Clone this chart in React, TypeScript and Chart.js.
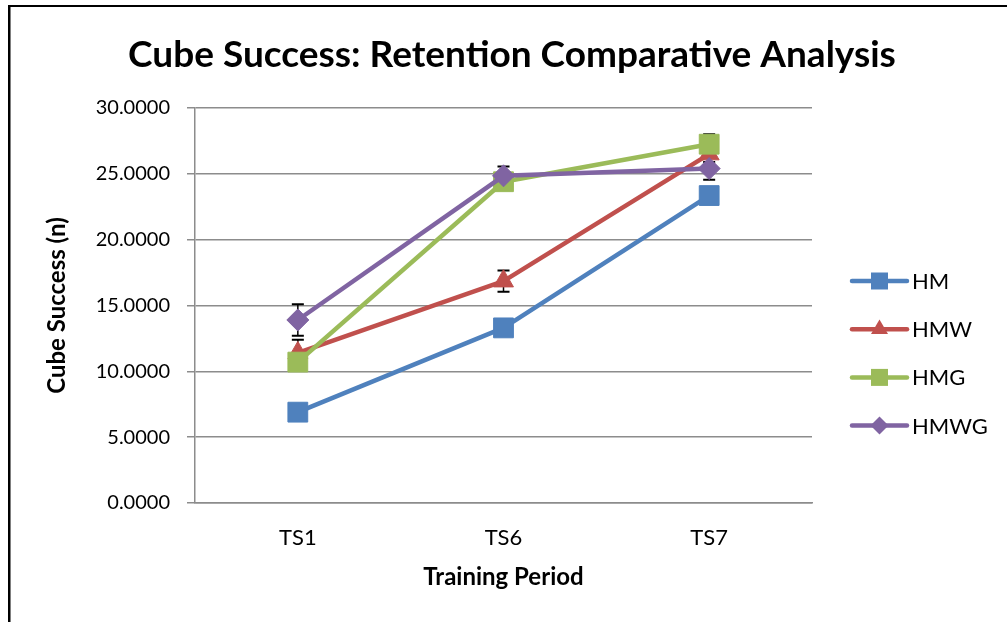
import { useEffect, useRef } from 'react';
import { Chart, registerables } from 'chart.js';

Chart.register(...registerables);

const categories = ['TS1', 'TS6', 'TS7'];
const seriesNames = ['HM', 'HMW', 'HMG', 'HMWG'];

const hmValues = [6.9, 13.3, 23.35];
const hmwValues = [11.4, 16.85, 26.5];
const hmgValues = [10.7, 24.4, 27.25];
const hmwgValues = [13.9, 24.85, 25.4];

const hmErrors = [0.4, 0.4, 0.4];
const hmwErrors = [1.0, 0.8, 0.6];
const hmgErrors = [0.6, 0.6, 0.75];
const hmwgErrors = [1.2, 0.7, 0.85];

const yMin = 0;
const yMax = 30;
const yStep = 5;

const chartTitle = 'Cube Success: Retention Comparative Analysis';
const xTitle = 'Training Period';
const yTitle = 'Cube Success (n)';

const colors = ['#4F81BD', '#C0504D', '#9BBB59', '#8064A2'];
const markerStyles = ['rect', 'triangle', 'rect', 'rectRot'];
const markerRadii = [14, 11.5, 14, 11];

const FONT = 'Lato, "Open Sans", sans-serif';

function drawMarker(ctx: CanvasRenderingContext2D, style: string, x: number, y: number, half: number, color: string) {
  ctx.save();
  ctx.fillStyle = color;
  ctx.beginPath();
  if (style === 'rect') {
    ctx.rect(x - half, y - half, half * 2, half * 2);
  } else if (style === 'triangle') {
    const r = half * 2 / Math.sqrt(3);
    ctx.moveTo(x, y - r);
    ctx.lineTo(x + half, y + r / 2);
    ctx.lineTo(x - half, y + r / 2);
    ctx.closePath();
  } else {
    ctx.moveTo(x, y - half);
    ctx.lineTo(x + half, y);
    ctx.lineTo(x, y + half);
    ctx.lineTo(x - half, y);
    ctx.closePath();
  }
  ctx.fill();
  ctx.restore();
}

export default function App() {
  const ref = useRef<HTMLCanvasElement | null>(null);

  useEffect(() => {
    const canvas = ref.current;
    if (!canvas) return;
    const values = [hmValues, hmwValues, hmgValues, hmwgValues];
    const errors = [hmErrors, hmwErrors, hmgErrors, hmwgErrors];

    const framePlugin = {
      id: 'frame',
      beforeDraw(chart: any) {
        const ctx = chart.ctx;
        ctx.save();
        ctx.fillStyle = '#fff';
        ctx.fillRect(0, 0, chart.width, chart.height);
        ctx.fillStyle = '#000';
        ctx.fillRect(8, 5, 2.5, chart.height);
        ctx.fillRect(8, 5, chart.width, 2);
        ctx.restore();
      },
      afterDraw(chart: any) {
        const ctx = chart.ctx;
        ctx.save();
        ctx.fillStyle = '#000';
        ctx.font = `bold 37px ${FONT}`;
        ctx.textAlign = 'center';
        ctx.textBaseline = 'middle';
        ctx.fillText(chartTitle, 512, 55);
        ctx.restore();
      },
    };

    const errorPlugin = {
      id: 'errorBars',
      beforeDatasetsDraw(chart: any) {
        const ctx = chart.ctx;
        const yScale = chart.scales.y;
        ctx.save();
        ctx.strokeStyle = '#000';
        errors.forEach((errs, i) => {
          const meta = chart.getDatasetMeta(i);
          meta.data.forEach((pt: any, j: number) => {
            const v = values[i][j];
            const e = errs[j];
            const yt = yScale.getPixelForValue(v + e);
            const yb = yScale.getPixelForValue(v - e);
            ctx.lineWidth = 1.5;
            ctx.beginPath();
            ctx.moveTo(pt.x, yt);
            ctx.lineTo(pt.x, yb);
            ctx.stroke();
            ctx.lineWidth = 2;
            ctx.beginPath();
            ctx.moveTo(pt.x - 6, yt);
            ctx.lineTo(pt.x + 6, yt);
            ctx.moveTo(pt.x - 6, yb);
            ctx.lineTo(pt.x + 6, yb);
            ctx.stroke();
          });
        });
        ctx.restore();
      },
    };

    const legendPlugin = {
      id: 'customLegend',
      afterDraw(chart: any) {
        const ctx = chart.ctx;
        const area = chart.chartArea;
        const x0 = area.right + 40;
        const lineLen = 55;
        const top = 281;
        const gap = 48.2;
        ctx.save();
        seriesNames.forEach((name, i) => {
          const y = top + i * gap;
          ctx.strokeStyle = colors[i];
          ctx.lineWidth = 4.5;
          ctx.lineCap = 'round';
          ctx.beginPath();
          ctx.moveTo(x0, y);
          ctx.lineTo(x0 + lineLen, y);
          ctx.stroke();
          const half = markerStyles[i] === 'rectRot' ? 9 : 8.5;
          drawMarker(ctx, markerStyles[i], x0 + lineLen / 2, y, half, colors[i]);
          ctx.fillStyle = '#000';
          ctx.font = `22px ${FONT}`;
          ctx.textBaseline = 'middle';
          ctx.textAlign = 'left';
          ctx.fillText(name, x0 + lineLen + 5, y + 1);
        });
        ctx.restore();
      },
    };

    const chart = new Chart(canvas, {
      type: 'line',
      data: {
        labels: categories,
        datasets: seriesNames.map((name, i) => ({
          label: name,
          data: values[i],
          borderColor: colors[i],
          backgroundColor: colors[i],
          borderWidth: 4.5,
          borderJoinStyle: 'round' as const,
          tension: 0,
          pointStyle: markerStyles[i] as any,
          pointRadius: markerRadii[i],
          pointBorderWidth: 1,
          pointBorderColor: colors[i],
          pointBackgroundColor: colors[i],
          order: seriesNames.length - i,
          clip: false as any,
        })),
      },
      options: {
        responsive: false,
        animation: false,
        layout: { padding: { left: 0, right: 195, top: 108, bottom: 0 } },
        plugins: {
          legend: { display: false },
          tooltip: { enabled: false },
          title: { display: false },
        },
        scales: {
          x: {
            offset: true,
            grid: { display: false, drawTicks: false },
            border: { display: true, color: '#8c8c8c', width: 1.5 },
            ticks: {
              color: '#000',
              font: { family: FONT, size: 22 },
              padding: 22,
            },
            title: {
              display: true,
              text: xTitle,
              color: '#000',
              font: { family: FONT, size: 24, weight: 'bold' },
              padding: { top: 0, bottom: 30.6 },
            },
            afterFit(scale: any) {
              scale.height = 119;
            },
          },
          y: {
            min: yMin,
            max: yMax,
            grid: { color: '#8c8c8c', lineWidth: 1.5, tickLength: 8, drawTicks: true },
            border: { display: true, color: '#8c8c8c', width: 1.5 },
            ticks: {
              stepSize: yStep,
              color: '#000',
              font: { family: FONT, size: 20 },
              padding: 17,
              callback: (v: any) => Number(v).toFixed(4),
            },
            title: {
              display: true,
              text: yTitle,
              color: '#000',
              font: { family: FONT, size: 24, weight: 'bold' },
              padding: { top: 43, bottom: 0 },
            },
            afterFit(scale: any) {
              scale.width = 195;
            },
          },
        },
      },
      plugins: [framePlugin, errorPlugin, legendPlugin],
    });

    return () => chart.destroy();
  }, []);

  return (
    <div style={{ position: 'fixed', left: 0, top: 0, width: 1007, height: 622, background: '#fff' }}>
      <canvas ref={ref} width={1007} height={622} style={{ display: 'block', width: 1007, height: 622 }} />
    </div>
  );
}
